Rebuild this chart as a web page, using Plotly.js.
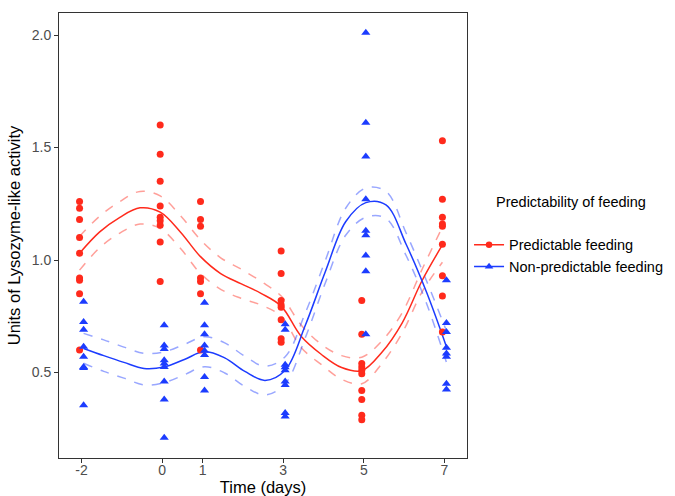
<!DOCTYPE html>
<html>
<head>
<meta charset="utf-8">
<script src="https://cdn.plot.ly/plotly-3.0.1.min.js"></script>
<style>html,body{margin:0;padding:0;background:#fff;}#chart{width:675px;height:496px;}</style>
</head>
<body>
<div id="chart"></div>
<script>
// Sampling days
const days = [-2, 0, 1, 3, 5, 7];
const tickLabels = ["-2", "0", "1", "3", "5", "7"];

// Raw observations: Predictable feeding (by day)
const predDay = [-2,-2,-2,-2,-2,-2,-2,-2,-2, 0,0,0,0,0,0,0,0,0, 1,1,1,1,1,1,1, 3,3,3,3,3,3,3,3, 5,5,5,5,5,5,5,5,5,5, 7,7,7,7,7,7,7,7,7];
const predVal = [1.26,1.23,1.18,1.10,1.03,0.92,0.91,0.85,0.60,
                 1.60,1.47,1.35,1.24,1.19,1.175,1.155,1.08,0.905,
                 1.26,1.18,1.15,0.92,0.905,0.85,0.60,
                 1.04,0.94,0.82,0.80,0.79,0.735,0.65,0.635,
                 0.82,0.67,0.54,0.525,0.51,0.495,0.42,0.38,0.31,0.29,
                 1.53,1.27,1.19,1.16,1.15,1.07,0.93,0.84,0.68];

// Raw observations: Non-predictable feeding (by day)
const nonDay = [-2,-2,-2,-2,-2,-2,-2,-2, 0,0,0,0,0,0,0,0,0, 1,1,1,1,1,1,1,1, 3,3,3,3,3,3,3,3,3, 5,5,5,5,5,5,5,5,5, 7,7,7,7,7,7,7,7];
const nonVal = [0.815,0.725,0.69,0.615,0.57,0.525,0.52,0.355,
                0.71,0.62,0.605,0.555,0.54,0.525,0.46,0.38,0.21,
                0.81,0.71,0.67,0.62,0.597,0.578,0.48,0.42,
                0.715,0.69,0.535,0.523,0.51,0.46,0.445,0.32,0.305,
                2.01,1.61,1.46,1.27,1.13,1.11,1.02,0.95,0.67,
                0.91,0.72,0.68,0.61,0.585,0.57,0.45,0.425];

// Smoothed fit with confidence limits
const fitX = [-2,-1.5,-1,-0.5,0,0.5,1,1.5,2,2.5,3,3.5,4,4.5,5,5.5,6,6.5,7];
const predFit   = [1.03,1.125,1.19,1.232,1.213,1.125,1.015,0.94,0.895,0.852,0.795,0.66,0.58,0.522,0.508,0.59,0.72,0.91,1.067];
const predUpper = [1.105,1.195,1.26,1.305,1.285,1.198,1.09,1.01,0.96,0.905,0.84,0.71,0.625,0.575,0.568,0.64,0.765,0.96,1.147];
const predLower = [0.955,1.055,1.12,1.16,1.14,1.052,0.94,0.87,0.83,0.80,0.75,0.61,0.535,0.47,0.45,0.54,0.675,0.86,0.99];
const nonFit    = [0.607,0.575,0.545,0.518,0.525,0.558,0.593,0.565,0.505,0.465,0.51,0.71,0.95,1.17,1.255,1.245,1.07,0.86,0.615];
const nonUpper  = [0.674,0.645,0.613,0.585,0.592,0.625,0.659,0.632,0.572,0.528,0.57,0.765,1.0,1.23,1.32,1.305,1.12,0.91,0.685];
const nonLower  = [0.541,0.505,0.475,0.445,0.455,0.49,0.526,0.498,0.438,0.40,0.45,0.655,0.9,1.11,1.19,1.185,1.02,0.81,0.545];

const seriesNames = ["Predictable feeding", "Non-predictable feeding"];

const RED = "#ff2a1c", BLUE = "#1c3cff";
const dodge = 0.05;
const shift = (arr, d) => arr.map(v => v + d);

function curve(x, y, color, dash, width, op) {
  return {x, y, type: "scatter", mode: "lines", showlegend: false, hoverinfo: "skip",
          opacity: op, line: {color, width, dash, shape: "spline", smoothing: 1}};
}

const traces = [
  curve(shift(fitX,-dodge), predUpper, RED, "dash", 1.5, 0.45),
  curve(shift(fitX,-dodge), predLower, RED, "dash", 1.5, 0.45),
  curve(shift(fitX, dodge), nonUpper, BLUE, "dash", 1.5, 0.45),
  curve(shift(fitX, dodge), nonLower, BLUE, "dash", 1.5, 0.45),
  curve(shift(fitX,-dodge), predFit, RED, "solid", 1.5, 1),
  curve(shift(fitX, dodge), nonFit, BLUE, "solid", 1.5, 1),
  {x: shift(predDay,-dodge), y: predVal, type: "scatter", mode: "markers", showlegend: false,
   marker: {symbol: "circle", size: 7, color: RED}},
  {x: shift(nonDay, dodge), y: nonVal, type: "scatter", mode: "markers", showlegend: false,
   marker: {symbol: "triangle-up", size: 8, color: BLUE}},
  {x: [null], y: [null], type: "scatter", mode: "lines+markers", name: seriesNames[0],
   line: {color: RED, width: 1.5}, marker: {symbol: "circle", size: 6.5, color: RED}},
  {x: [null], y: [null], type: "scatter", mode: "lines+markers", name: seriesNames[1],
   line: {color: BLUE, width: 1.5}, marker: {symbol: "triangle-up", size: 7.5, color: BLUE}}
];

const axisCommon = {
  showgrid: false, zeroline: false, showline: true, mirror: true,
  linecolor: "#333333", linewidth: 1, ticks: "outside", ticklen: 4,
  tickcolor: "#333333", tickwidth: 1,
  tickfont: {family: "Liberation Sans, Arial, sans-serif", size: 14, color: "#4d4d4d"}
};

const layout = {
  width: 675, height: 496,
  margin: {l: 59, r: 208, t: 13, b: 38, autoexpand: false},
  paper_bgcolor: "#ffffff", plot_bgcolor: "#ffffff",
  font: {family: "Liberation Sans, Arial, sans-serif", color: "#000"},
  xaxis: Object.assign({}, axisCommon, {
    range: [-2.56, 7.56], tickvals: days, ticktext: tickLabels, ticklabelstandoff: -5,
    automargin: false,
    title: {text: "Time (days)", font: {size: 16.5, color: "#000"}, standoff: 2}
  }),
  yaxis: Object.assign({}, axisCommon, {
    range: [0.12, 2.098], tickvals: [0.5, 1.0, 1.5, 2.0], ticktext: ["0.5","1.0","1.5","2.0"],
    automargin: false,
    title: {text: "Units of Lysozyme-like activity", font: {size: 16.5, color: "#000"}, standoff: 6}
  }),
  showlegend: true,
  legend: {x: 1.005, xanchor: "left", y: 0.515, yanchor: "top",
           font: {size: 14.5, color: "#000"}, bgcolor: "rgba(0,0,0,0)", itemwidth: 30,
           tracegroupgap: 0},
  annotations: [{text: "Predictability of feeding", xref: "paper", yref: "paper",
                 x: 1.067, y: 0.575, xanchor: "left", yanchor: "middle", showarrow: false,
                 font: {size: 14.5, color: "#000"}}]
};

Plotly.newPlot("chart", traces, layout, {displayModeBar: false, staticPlot: true});
</script>
</body>
</html>
